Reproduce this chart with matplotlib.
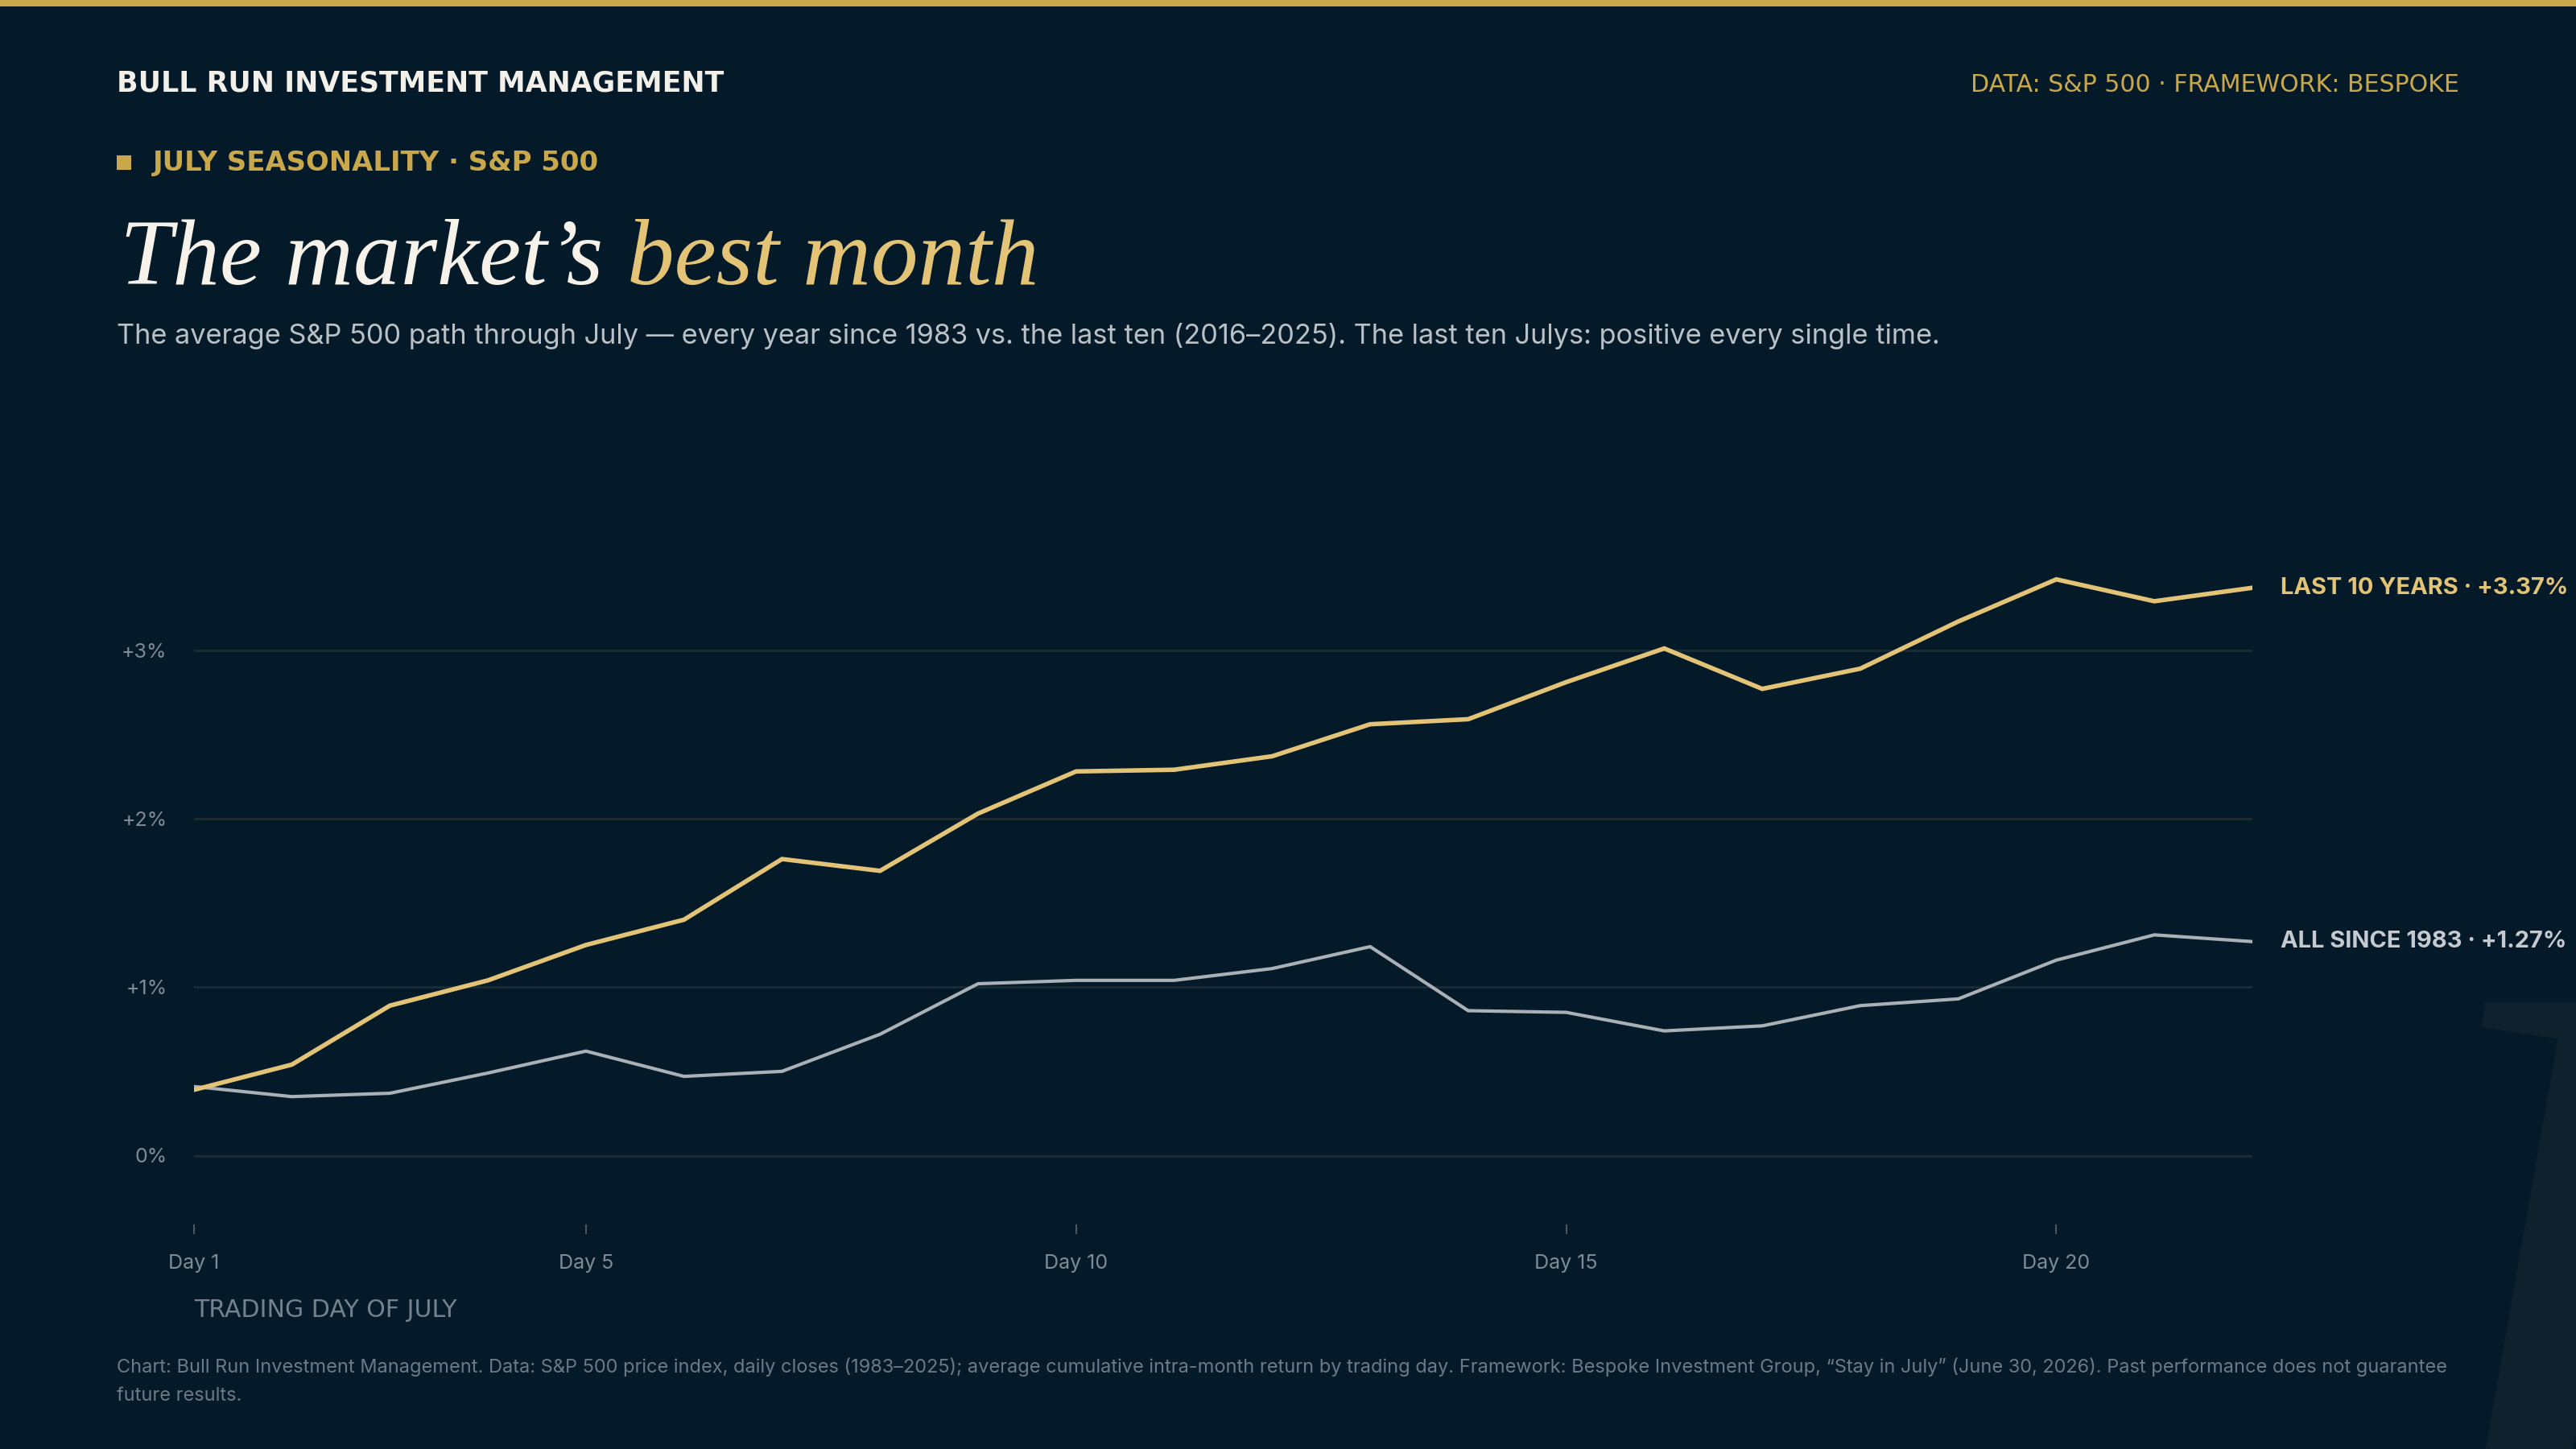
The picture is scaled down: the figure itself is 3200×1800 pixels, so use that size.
import matplotlib
matplotlib.use('Agg')
import matplotlib.pyplot as plt
from matplotlib.patches import Rectangle

# ---------------- data ----------------
days = list(range(1, 23))
last10 = [0.39, 0.54, 0.89, 1.04, 1.25, 1.40, 1.76, 1.69, 2.03, 2.28, 2.29,
          2.37, 2.56, 2.59, 2.81, 3.01, 2.77, 2.89, 3.17, 3.42, 3.29, 3.37]
all83 = [0.41, 0.35, 0.37, 0.49, 0.62, 0.47, 0.50, 0.72, 1.02, 1.04, 1.04,
         1.11, 1.24, 0.86, 0.85, 0.74, 0.77, 0.89, 0.93, 1.16, 1.31, 1.27]
y_ticks = [0, 1, 2, 3]
y_tick_labels = ['0%', '+1%', '+2%', '+3%']
x_ticks = [1, 5, 10, 15, 20]
x_tick_labels = ['Day 1', 'Day 5', 'Day 10', 'Day 15', 'Day 20']
series_names = ['LAST 10 YEARS', 'ALL SINCE 1983']

# ---------------- style ----------------
W, H = 3200, 1800
BG = '#041a29'
GOLD = '#e3c477'
GOLD_DK = '#c9a84c'
GREY_LINE = '#a9b0b6'
GREY_LABEL = '#c5cad0'
TICK_TXT = '#7f8b95'
SANS = ['Inter', 'DejaVu Sans']
WIDE = ['DejaVu Sans']
SERIF = ['Liberation Serif', 'DejaVu Serif']

fig = plt.figure(figsize=(16, 9), dpi=200, facecolor=BG)
renderer = fig.canvas.get_renderer()


def fx(px):
    return px / W


def fy(py):
    return 1 - py / H


def fit(t, target_px):
    w = t.get_window_extent(renderer).width
    t.set_fontsize(t.get_fontsize() * target_px / w)


# top gold rule
fig.patches.append(Rectangle((0, fy(8)), 1, 8 / H, transform=fig.transFigure,
                             facecolor=GOLD_DK, edgecolor='none'))

# ghost letter (decorative)
fig.text(fx(3335), fy(1200), 'J', family=SERIF, style='italic', fontsize=420,
         color='#0f212c', va='top', ha='right', zorder=0)

# header
fig.text(fx(145), fy(114), 'BULL RUN INVESTMENT MANAGEMENT', family=WIDE,
         fontweight='bold', fontsize=12.5, color='#f3f0ea', va='baseline')
fig.text(fx(3055), fy(114), 'DATA: S&P 500 · FRAMEWORK: BESPOKE', family=WIDE,
         fontsize=10.8, color=GOLD_DK, va='baseline', ha='right')

# kicker
fig.patches.append(Rectangle((fx(145), fy(211)), 18 / W, 18 / H,
                             transform=fig.transFigure, facecolor=GOLD_DK,
                             edgecolor='none'))
fig.text(fx(190), fy(212), 'JULY SEASONALITY · S&P 500', family=WIDE,
         fontweight='bold', fontsize=12.2, color=GOLD_DK, va='baseline')

# title in two colours
t1 = fig.text(fx(149), fy(353), 'The market’s', family=SERIF, style='italic',
              fontsize=44, color='#f6f2ea', va='baseline')
t2 = fig.text(fx(149), fy(353), 'best month', family=SERIF, style='italic',
              fontsize=44, color=GOLD, va='baseline')
for _ in range(3):
    e1 = t1.get_window_extent(renderer)
    gap = 0.25 * t1.get_fontsize() * 200 / 72
    t2.set_x(fx(e1.x1 + gap))
    e2 = t2.get_window_extent(renderer)
    total = e2.x1 - e1.x0
    s = t1.get_fontsize() * 1141 / total
    t1.set_fontsize(s)
    t2.set_fontsize(s)
e1 = t1.get_window_extent(renderer)
t2.set_x(fx(e1.x1 + 0.25 * t1.get_fontsize() * 200 / 72))

# subtitle
sub = fig.text(fx(145), fy(427),
               'The average S&P 500 path through July — every year since 1983 vs. '
               'the last ten (2016–2025). The last ten Julys: positive every single time.',
               family=SANS, fontsize=12, color='#b9c0c6', va='baseline')
fit(sub, 2270)

# ---------------- chart ----------------
y0_px, per_pct = 1435.5, 209.3
ylo, yhi = -0.408, 3.9
bot_px = y0_px - ylo * per_pct
top_px = y0_px - yhi * per_pct
left_px, right_px = 240.8, 2798.0
ax = fig.add_axes([fx(left_px), fy(bot_px), (right_px - left_px) / W,
                   (bot_px - top_px) / H])
ax.set_facecolor('none')
ax.set_xlim(days[0], days[-1])
ax.set_ylim(ylo, yhi)
for sp in ax.spines.values():
    sp.set_visible(False)

ax.set_yticks(y_ticks)
ax.set_yticklabels(y_tick_labels)
ax.set_xticks(x_ticks)
ax.set_xticklabels(x_tick_labels)
ax.grid(axis='y', color='#1c2b31', lw=1.1)
ax.axhline(0, color='#3e4c57', lw=1.1, zorder=1.5)
ax.tick_params(axis='y', length=0, pad=12, labelsize=9, labelcolor=TICK_TXT)
ax.tick_params(axis='x', length=4.3, width=0.7, color='#4a5a66', pad=9,
               labelsize=9, labelcolor=TICK_TXT, direction='out')
for lab in ax.get_xticklabels() + ax.get_yticklabels():
    lab.set_family(SANS)

ax.plot(days, all83, color=GREY_LINE, lw=1.5, zorder=3, solid_joinstyle='miter')
ax.plot(days, last10, color=GOLD, lw=2.0, zorder=4, solid_joinstyle='miter')

a1 = ax.annotate(f'{series_names[0]} · +{last10[-1]:.2f}%', xy=(days[-1], last10[-1]),
                 xytext=(12.6, 0), textcoords='offset points', va='center', ha='left',
                 color=GOLD, fontweight='bold', fontsize=12, family=SANS,
                 annotation_clip=False)
a2 = ax.annotate(f'{series_names[1]} · +{all83[-1]:.2f}%', xy=(days[-1], all83[-1]),
                 xytext=(12.6, 0), textcoords='offset points', va='center', ha='left',
                 color=GREY_LABEL, fontweight='bold', fontsize=12, family=SANS,
                 annotation_clip=False)
fit(a1, 358)
a2.set_fontsize(a1.get_fontsize())

fig.text(fx(241), fy(1627), 'TRADING DAY OF JULY', family=WIDE, fontsize=10.8,
         color='#74818c', va='center')

# footer
f1 = fig.text(fx(145), fy(1705),
              'Chart: Bull Run Investment Management. Data: S&P 500 price index, daily closes '
              '(1983–2025); average cumulative intra-month return by trading day. Framework: '
              'Bespoke Investment Group, “Stay in July” (June 30, 2026). Past performance does not guarantee',
              family=SANS, fontsize=8, color='#6d7a85', va='baseline')
fit(f1, 2896)
fig.text(fx(145), fy(1740), 'future results.', family=SANS,
         fontsize=f1.get_fontsize(), color='#6d7a85', va='baseline')

fig.savefig('out.png', dpi=200, facecolor=BG)
